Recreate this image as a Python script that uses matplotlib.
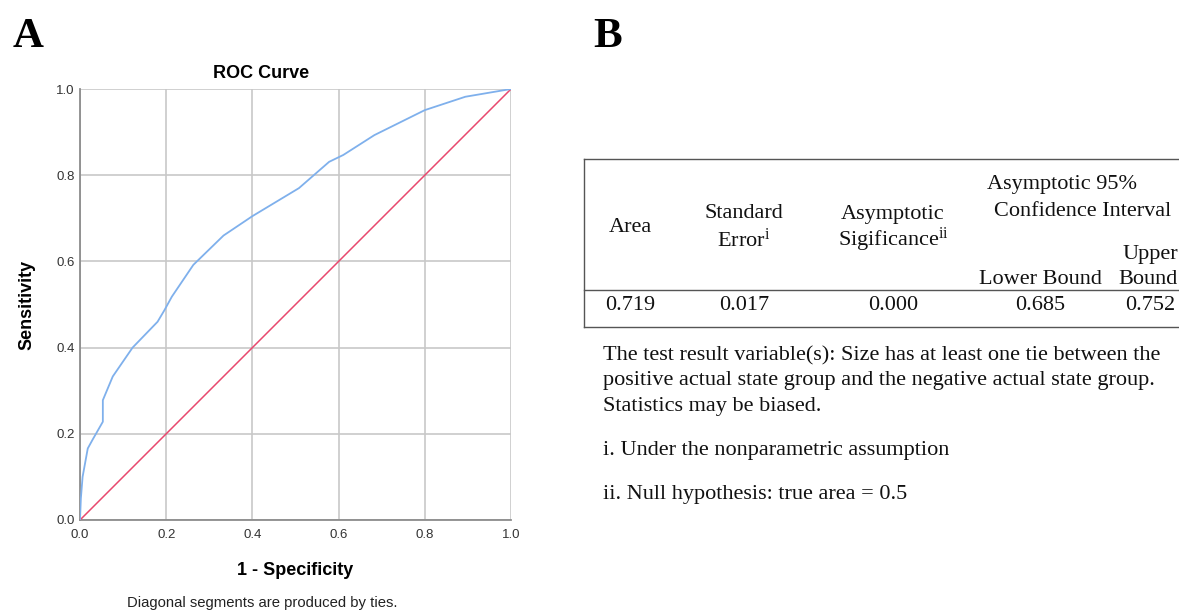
import numpy as np
import matplotlib; matplotlib.use('Agg')
import matplotlib.pyplot as plt
from matplotlib.lines import Line2D

plt.rcParams.update({'mathtext.fontset': 'custom', 'mathtext.rm': 'Liberation Serif',
                     'mathtext.it': 'Liberation Serif:italic'})

# ROC curve
fpr = [0.0, 0.002, 0.006, 0.018, 0.029, 0.053, 0.053, 0.076, 0.122, 0.180, 0.196,
       0.213, 0.263, 0.333, 0.400, 0.508, 0.578, 0.611, 0.683, 0.800, 0.894, 1.0]
tpr = [0.0, 0.05, 0.10, 0.166, 0.186, 0.228, 0.278, 0.333, 0.400, 0.460, 0.487,
       0.518, 0.592, 0.660, 0.705, 0.770, 0.831, 0.847, 0.893, 0.951, 0.982, 1.0]
ref_line = [0.0, 1.0]

# table values
area, std_err, asym_sig, lower_b, upper_b = '0.719', '0.017', '0.000', '0.685', '0.752'
notes = ['The test result variable(s): Size has at least one tie between the',
         'positive actual state group and the negative actual state group.',
         'Statistics may be biased.']
footnotes = ['i. Under the nonparametric assumption',
             'ii. Null hypothesis: true area = 0.5']

W, H = 1179, 613
fig = plt.figure(figsize=(W / 100, H / 100), dpi=100)
fig.patch.set_facecolor('white')

# ── Panel A: ROC curve ──────────────────────────────────────────────
sans = 'Liberation Sans'
ax = fig.add_axes([80 / W, (H - 520) / H, 431 / W, 431 / H])
ax.plot(ref_line, ref_line, color='#e8486e', lw=1.1, zorder=3)
ax.plot(fpr, tpr, color='#7fb0ec', lw=1.3, zorder=4)
ax.set_xlim(0, 1); ax.set_ylim(0, 1)
ticks = np.arange(0, 1.01, 0.2)
ax.set_xticks(ticks); ax.set_yticks(ticks)
ax.set_xticklabels([f'{t:.1f}' for t in ticks], fontfamily=sans, fontsize=9.5, color='#333333')
ax.set_yticklabels([f'{t:.1f}' for t in ticks], fontfamily=sans, fontsize=9.5, color='#333333')
ax.tick_params(axis='x', length=0, pad=6.5)
ax.tick_params(axis='y', length=0, pad=4)
ax.grid(True, color='#c8c8c8', lw=1.2)
for s in ['top', 'right']:
    ax.spines[s].set_visible(False)
for s in ['left', 'bottom']:
    ax.spines[s].set_color('#8c8c8c'); ax.spines[s].set_linewidth(1.3)
ax.set_xlabel('1 - Specificity', fontfamily=sans, fontweight='bold', fontsize=13, labelpad=15)
ax.set_ylabel('Sensitivity', fontfamily=sans, fontweight='bold', fontsize=13, labelpad=15)

# ── overlay in pixel coordinates for letters, titles and table ──────
ov = fig.add_axes([0, 0, 1, 1], zorder=-1)
ov.set_xlim(0, W); ov.set_ylim(H, 0); ov.axis('off')

serif = 'Liberation Serif'
ov.text(28, 37, 'A', fontfamily=serif, fontweight='bold', fontsize=31, ha='center', va='center')
ov.text(608, 37, 'B', fontfamily=serif, fontweight='bold', fontsize=31, ha='center', va='center')
ov.text(261, 73, 'ROC Curve', fontfamily=sans, fontweight='bold', fontsize=13,
        ha='center', va='center')
ov.text(262, 603, 'Diagonal segments are produced by ties.', fontfamily=sans,
        fontsize=10.7, ha='center', va='center', color='#222222')

# table lines
lc = '#555555'
ov.add_line(Line2D([584, W], [159, 159], color=lc, lw=1.0))
ov.add_line(Line2D([584, W], [290, 290], color=lc, lw=1.0))
ov.add_line(Line2D([584, W], [327, 327], color=lc, lw=1.0))
ov.add_line(Line2D([584, 584], [159, 327], color=lc, lw=1.0))

fs = 16
kw = dict(fontfamily=serif, fontsize=fs, ha='center', va='center', color='#111111')
ov.text(630, 227, 'Area', **kw)
ov.text(744, 213, 'Standard', **kw)
ov.text(744, 240, r'Error$^{\rm i}$', **kw)
ov.text(893, 215, 'Asymptotic', **kw)
ov.text(893, 240, r'Sigificance$^{\rm ii}$', **kw)
ov.text(1062, 185, 'Asymptotic 95%', **kw)
ov.text(1083, 211, 'Confidence Interval', **kw)
ov.text(1150, 254, 'Upper', **kw)
ov.text(1040, 279, 'Lower Bound', **kw)
ov.text(1148, 279, 'Bound', **kw)
for x, v in zip([630, 744, 893, 1040, 1150], [area, std_err, asym_sig, lower_b, upper_b]):
    ov.text(x, 306, v, **kw)

for i, line in enumerate(notes):
    ov.text(603, 356 + 25 * i, line, fontfamily=serif, fontsize=fs, ha='left', va='center', color='#111111')
ov.text(603, 451, footnotes[0], fontfamily=serif, fontsize=fs, ha='left', va='center', color='#111111')
ov.text(603, 494, footnotes[1], fontfamily=serif, fontsize=fs, ha='left', va='center', color='#111111')

fig.savefig('out.png', dpi=100)
